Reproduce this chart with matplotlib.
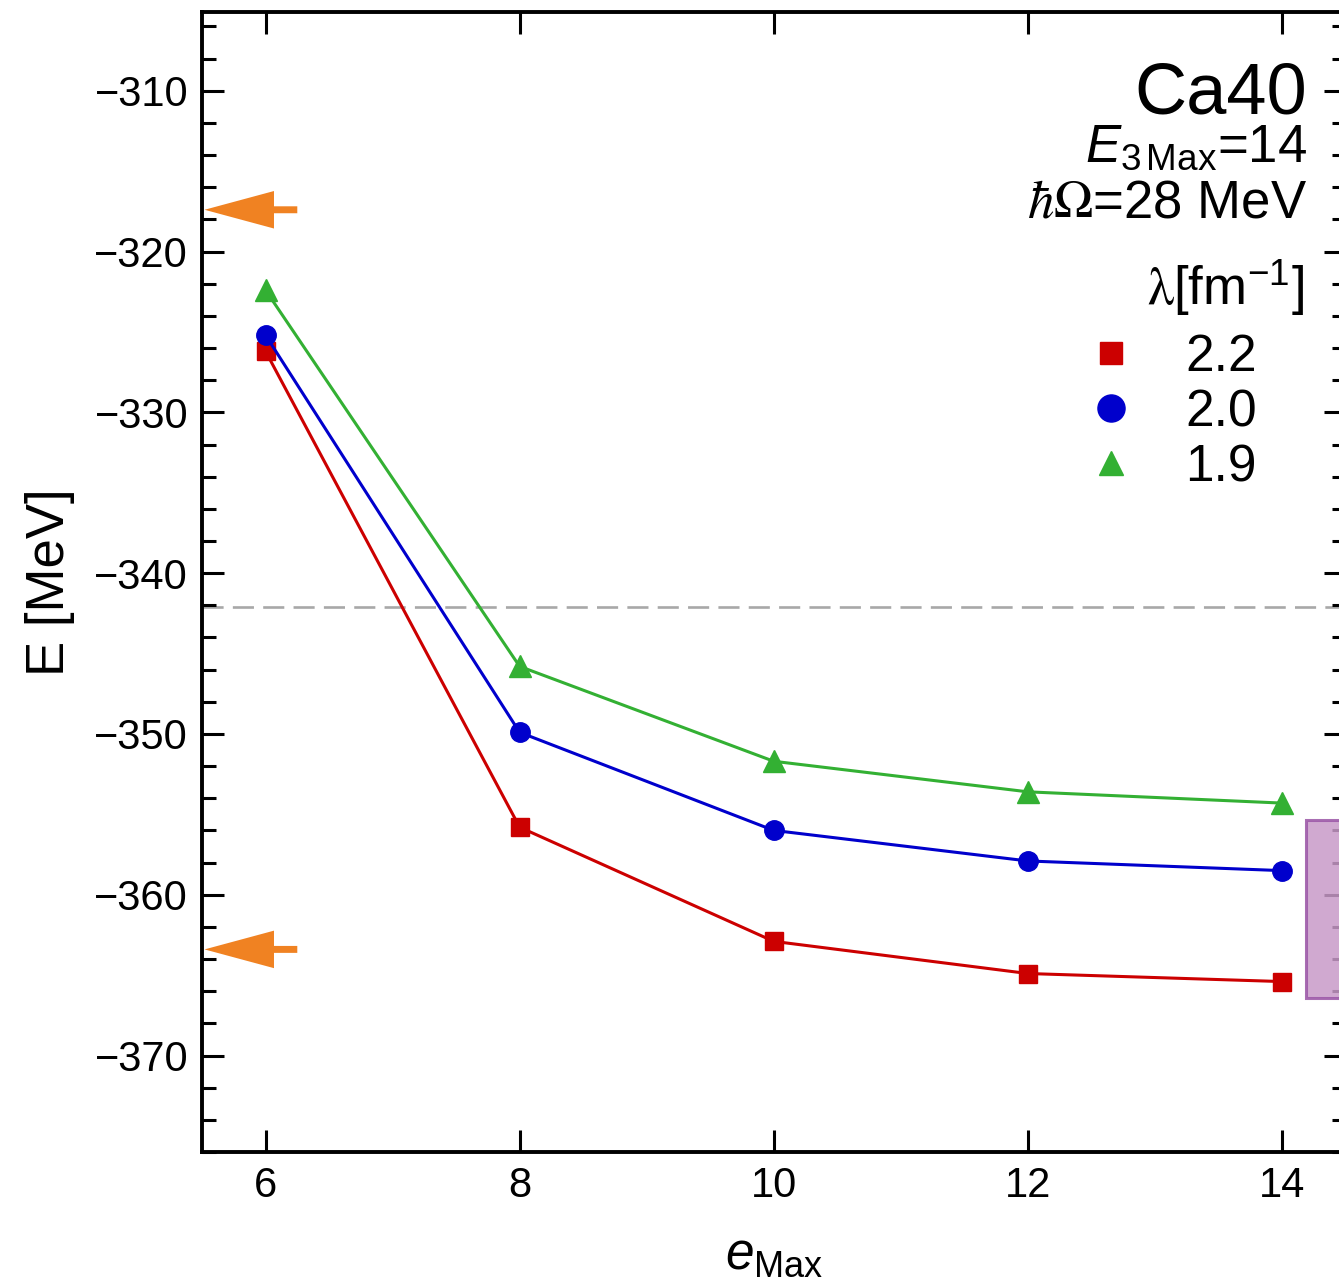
import numpy as np
import matplotlib
matplotlib.use("Agg")
from matplotlib import pyplot as plt
from matplotlib.lines import Line2D
from matplotlib.patches import Rectangle
from matplotlib.ticker import MultipleLocator

# e_Max truncation and ground-state energies (MeV) for each SRG lambda
e_max = [6, 8, 10, 12, 14]
lam_labels = ["2.2", "2.0", "1.9"]
energy_22 = [-326.2, -355.8, -362.9, -364.9, -365.4]
energy_20 = [-325.2, -349.9, -356.0, -357.9, -358.5]
energy_19 = [-322.4, -345.8, -351.7, -353.6, -354.3]

# reference values
exp_line = -342.1
arrow_levels = [-317.4, -363.4]
band_low, band_high = -366.4, -355.35

plt.rcParams['font.family'] = ['Liberation Sans', 'DejaVu Sans']
plt.rcParams['mathtext.fontset'] = 'custom'
plt.rcParams['mathtext.rm'] = 'Liberation Sans'
plt.rcParams['mathtext.it'] = 'Liberation Sans:italic'
plt.rcParams['axes.unicode_minus'] = True

W, H = 1339, 1278
fig = plt.figure(figsize=(W / 100, H / 100), dpi=100)
ax = fig.add_axes([202 / W, 1 - 1152 / H, (1345.5 - 202) / W, (1152 - 12) / H])

red, blue, green = "#cc0000", "#0000cc", "#33b033"
ax.plot(e_max, energy_22, color=red, lw=2.2, marker="s", ms=13, zorder=4)
ax.plot(e_max, energy_20, color=blue, lw=2.2, marker="o", ms=14, zorder=4)
ax.plot(e_max, energy_19, color=green, lw=2.2, marker="^", ms=15.5, zorder=4)

ax.axhline(exp_line, color="#a8a8a8", lw=1.9, dashes=(8, 3.5), zorder=1)

for lev in arrow_levels:
    ax.annotate("", xy=(5.52, lev), xytext=(6.25, lev),
                arrowprops=dict(arrowstyle="simple,head_length=50,head_width=27,tail_width=5",
                                mutation_scale=1, color="#f08222", lw=0,
                                shrinkA=0, shrinkB=0), zorder=5)

ax.add_patch(Rectangle((14.19, band_low), 1.0, band_high - band_low,
                       facecolor="#c89ac8", edgecolor="#9a55a6", lw=2.2,
                       alpha=0.85, zorder=6, clip_on=True))

ax.set_xlim(5.5, 14.5)
ax.set_ylim(-376, -305.1)
ax.set_xticks(e_max)
ax.yaxis.set_major_locator(MultipleLocator(10))
ax.yaxis.set_minor_locator(MultipleLocator(2))
ax.tick_params(which="both", direction="in", top=True, right=True, width=2.2,
               labelsize=30, pad=10)
ax.tick_params(which="major", length=16)
ax.tick_params(which="minor", length=10)
for s in ax.spines.values():
    s.set_linewidth(2.8)

ax.set_ylabel("E [MeV]", fontsize=38, labelpad=14)
ax.set_xlabel(r"$e_{\mathrm{Max}}$", fontsize=37, labelpad=18)

fig.text(1307 / W, 1 - 113 / H, "Ca40", fontsize=52, ha="right", va="baseline")
fig.text(1307 / W, 1 - 162 / H, r"$E_{3\,\mathrm{Max}}$=14", fontsize=38,
         ha="right", va="baseline")
fig.text(1307 / W, 1 - 218 / H, r"$\hbar\Omega$=28 MeV", fontsize=38,
         ha="right", va="baseline", math_fontfamily="stix")
fig.text(1305 / W, 1 - 305 / H, r"$\mathrm{\lambda}$[fm$^{\mathregular{-1}}$]", fontsize=38,
         ha="right", va="baseline", math_fontfamily="stix")

handles = [
    Line2D([], [], ls="none", marker="s", ms=16.5, color=red),
    Line2D([], [], ls="none", marker="o", ms=19.5, color=blue),
    Line2D([], [], ls="none", marker="^", ms=17.5, color=green),
]
fig.legend(handles, lam_labels, loc="upper left",
           bbox_to_anchor=(1085 / W, 1 - 333 / H), fontsize=37, frameon=False,
           borderpad=0, borderaxespad=0, handlelength=1.0, handletextpad=0.95,
           labelspacing=0.12)

fig.savefig("out.png", dpi=100)
